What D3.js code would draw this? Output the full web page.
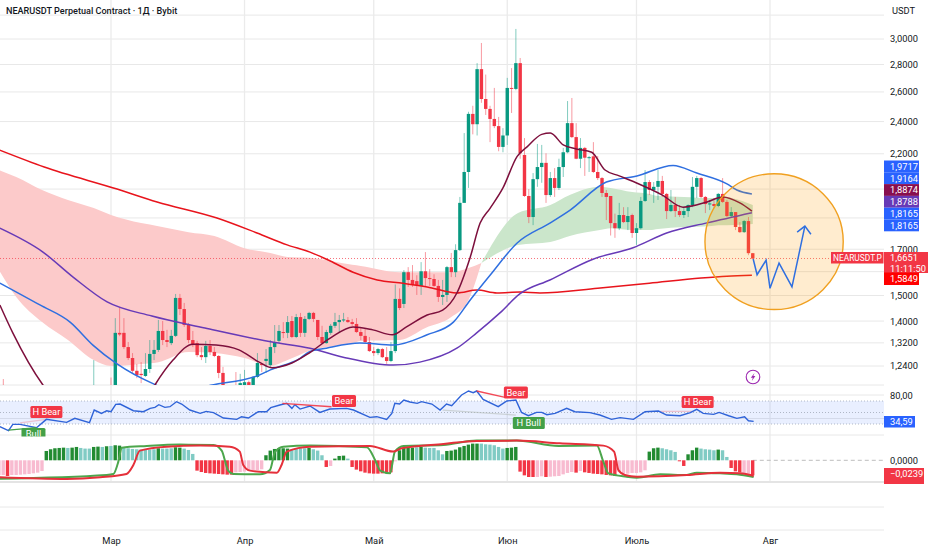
<!DOCTYPE html>
<html lang="ru">

<head>
  <meta charset="UTF-8">
  <title>NEARUSDT Perpetual Contract</title>
  <script src="https://d3js.org/d3.v7.min.js"></script>
  <style>
    body { margin: 0; background: #fff; }
    text { font-family: Roboto, sans-serif; fill: #131722; }
    .axis .domain { display: none; }
    .axis text { font-size: 9.3px; font-family: Roboto, sans-serif; fill: #131722; }
    .tag { font-size: 9.3px; fill: #fff; }
  </style>
</head>

<body>
  <div id="chart"></div>
  <script>
    // x is counted in days from 1 March
    const monthDays = [0, 31, 61, 92, 122, 153];
    const monthNames = ["Мар", "Апр", "Май", "Июн", "Июль", "Авг"];

    const gridPrices = [3.2, 3.0, 2.8, 2.6, 2.4, 2.2, 2.0, 1.85, 1.7, 1.6, 1.5, 1.4, 1.32, 1.24];
    const labelPrices = [3.0, 2.8, 2.6, 2.4, 2.2, 1.7, 1.5, 1.4, 1.32, 1.24];

    // daily candles, first one is 2 March
    const opens = [
      1.12, 1.364, 1.364, 1.313, 1.275, 1.232, 1.222, 1.215, 1.238, 1.289, 1.303, 1.371, 1.338, 1.327, 1.353, 1.498, 1.454, 1.393, 1.338, 1.327, 1.285, 1.278, 1.317, 1.296, 1.282, 1.225, 1.17, 1.16, 1.165, 1.17,
      1.18, 1.195, 1.183, 1.212, 1.255, 1.265, 1.251, 1.313, 1.335, 1.367, 1.364, 1.408, 1.349, 1.423, 1.364, 1.416, 1.439, 1.412, 1.349, 1.327, 1.364, 1.39, 1.404, 1.412, 1.412, 1.404, 1.397, 1.367, 1.353, 1.331,
      1.299, 1.292, 1.306, 1.278, 1.265, 1.299, 1.494, 1.474, 1.605, 1.572, 1.567, 1.547, 1.609, 1.58, 1.576, 1.547, 1.502, 1.51, 1.627, 1.605, 1.703, 1.933, 2.1, 2.454, 2.387, 2.767, 2.554, 2.487, 2.421, 2.375, 2.246,
      2.316, 2.631, 2.624, 2.812, 2.198, 1.969, 1.861, 2.06, 2.128, 2.152, 1.974, 2.066, 2.012, 2.128, 2.214, 2.394, 2.306, 2.176, 2.24, 2.182, 2.19, 2.1, 2.066, 1.985, 1.969, 1.831, 1.806, 1.871, 1.836, 1.871,
      1.783, 1.806, 1.943, 2.044, 2.001, 2.018, 2.05, 1.98, 1.891, 1.922, 1.891, 1.871, 1.891, 1.922, 2.018, 2.066, 1.964, 1.927, 1.927, 1.917, 1.98, 1.938, 1.866, 1.886, 1.812, 1.787, 1.841, 1.689
    ];
    const highs = [
      1.419, 1.458, 1.419, 1.331, 1.292, 1.255, 1.261, 1.292, 1.338, 1.338, 1.412, 1.408, 1.375, 1.375, 1.514, 1.514, 1.478, 1.401, 1.371, 1.335, 1.313, 1.335, 1.338, 1.313, 1.285, 1.245, 1.175, 1.175, 1.228, 1.222,
      1.235, 1.2, 1.215, 1.292, 1.258, 1.306, 1.338, 1.393, 1.393, 1.404, 1.427, 1.427, 1.435, 1.439, 1.427, 1.443, 1.443, 1.412, 1.39, 1.375, 1.397, 1.439, 1.431, 1.439, 1.423, 1.416, 1.419, 1.382, 1.379, 1.349,
      1.313, 1.31, 1.31, 1.313, 1.331, 1.553, 1.537, 1.614, 1.627, 1.636, 1.592, 1.649, 1.694, 1.618, 1.596, 1.572, 1.572, 1.632, 1.69, 1.73, 1.964, 2.331, 2.468, 2.508, 2.812, 2.968, 2.727, 2.508, 2.631, 2.434, 2.362,
      2.703, 2.775, 3.082, 2.851, 2.3, 2.006, 2.094, 2.264, 2.258, 2.208, 2.1, 2.122, 2.176, 2.24, 2.54, 2.561, 2.394, 2.3, 2.246, 2.192, 2.275, 2.192, 2.072, 2.001, 1.969, 1.878, 1.933, 1.911, 1.911, 1.878,
      1.831, 1.964, 2.111, 2.055, 2.044, 2.111, 2.078, 1.985, 2.001, 1.964, 1.922, 1.911, 1.925, 2.072, 2.078, 2.072, 1.969, 1.948, 1.958, 1.985, 2.066, 1.948, 1.911, 1.886, 1.836, 1.846, 1.861, 1.69
    ];
    const lows = [
      1.08, 1.352, 1.306, 1.268, 1.225, 1.208, 1.192, 1.212, 1.225, 1.268, 1.296, 1.32, 1.313, 1.32, 1.349, 1.431, 1.386, 1.327, 1.313, 1.278, 1.268, 1.258, 1.285, 1.278, 1.208, 1.164, 1.15, 1.14, 1.15, 1.16,
      1.165, 1.17, 1.165, 1.208, 1.228, 1.225, 1.245, 1.292, 1.327, 1.345, 1.345, 1.345, 1.345, 1.349, 1.349, 1.412, 1.404, 1.338, 1.325, 1.325, 1.357, 1.382, 1.367, 1.404, 1.401, 1.39, 1.364, 1.338, 1.327, 1.296,
      1.282, 1.285, 1.275, 1.255, 1.261, 1.292, 1.45, 1.458, 1.543, 1.543, 1.51, 1.51, 1.543, 1.547, 1.543, 1.482, 1.47, 1.482, 1.584, 1.584, 1.699, 2.012, 2.012, 2.323, 2.316, 2.528, 2.447, 2.275, 2.362, 2.22, 2.214,
      2.258, 2.46, 2.615, 2.176, 1.964, 1.831, 1.821, 2.018, 2.04, 1.933, 1.964, 1.964, 2.001, 2.072, 2.208, 2.3, 2.173, 2.122, 2.078, 2.1, 2.094, 2.055, 1.964, 1.846, 1.771, 1.76, 1.797, 1.831, 1.797, 1.76,
      1.727, 1.8, 1.938, 1.974, 1.933, 1.948, 1.964, 1.851, 1.886, 1.861, 1.861, 1.856, 1.861, 1.911, 1.958, 1.958, 1.881, 1.896, 1.906, 1.911, 1.933, 1.861, 1.861, 1.797, 1.783, 1.783, 1.68, 1.662
    ];
    const closes = [
      1.364, 1.358, 1.313, 1.275, 1.232, 1.218, 1.218, 1.238, 1.289, 1.303, 1.371, 1.338, 1.331, 1.353, 1.498, 1.454, 1.393, 1.338, 1.32, 1.285, 1.278, 1.317, 1.296, 1.282, 1.225, 1.18, 1.16, 1.15, 1.16, 1.192,
      1.195, 1.183, 1.212, 1.258, 1.251, 1.272, 1.313, 1.331, 1.371, 1.364, 1.404, 1.349, 1.423, 1.364, 1.416, 1.439, 1.416, 1.349, 1.327, 1.367, 1.39, 1.404, 1.412, 1.414, 1.404, 1.397, 1.367, 1.353, 1.331, 1.299,
      1.292, 1.306, 1.278, 1.265, 1.299, 1.494, 1.458, 1.605, 1.572, 1.551, 1.551, 1.609, 1.58, 1.576, 1.547, 1.502, 1.51, 1.627, 1.605, 1.703, 1.933, 2.1, 2.454, 2.387, 2.767, 2.554, 2.487, 2.421, 2.375, 2.246, 2.316,
      2.631, 2.624, 2.812, 2.208, 1.969, 1.861, 2.06, 2.128, 2.152, 1.974, 2.066, 2.012, 2.128, 2.214, 2.394, 2.306, 2.176, 2.24, 2.182, 2.185, 2.1, 2.066, 1.985, 1.964, 1.831, 1.806, 1.871, 1.836, 1.866, 1.783,
      1.806, 1.943, 2.044, 2.001, 2.018, 2.05, 1.98, 1.891, 1.922, 1.891, 1.871, 1.891, 1.922, 2.018, 2.066, 1.964, 1.927, 1.93, 1.917, 1.98, 1.938, 1.866, 1.886, 1.812, 1.787, 1.841, 1.689, 1.6651
    ];
    // only the wicks of these older candles reach into the pane
    const earlyDays = [-26, -25, -4, 0];
    const earlyHighs = [1.205, 1.205, 1.268, 1.21];
    const earlyUp = [false, false, true, false];

    // moving averages
    const ema200Days = [-26, -15.5, 1.4, 10.7, 24.6, 33.9, 40.9, 46.2, 50.9, 56.2, 61.8, 67.8, 73.4, 80.3, 85, 89.6, 95, 99.6, 113, 125, 137, 143, 148.8];
    const ema200 = [2.228, 2.128, 2.006, 1.938, 1.856, 1.783, 1.727, 1.694, 1.654, 1.605, 1.572, 1.558, 1.543, 1.518, 1.53, 1.518, 1.522, 1.518, 1.537, 1.558, 1.58, 1.588, 1.592];
    const ema100Days = [-25.8, -15.8, -8.8, -0.9, 9.5, 21.8, 37.4, 46.2, 53.9, 65.5, 71.7, 80.3, 84.9, 90.3, 94.9, 101.9, 111.9, 121.2, 129, 138.4, 148.8];
    const ema100 = [1.806, 1.694, 1.584, 1.482, 1.427, 1.382, 1.331, 1.309, 1.278, 1.251, 1.261, 1.309, 1.364, 1.439, 1.514, 1.572, 1.662, 1.714, 1.783, 1.832, 1.883];
    const ema50Days = [-25.8, -16.5, -9.5, -4.2, 1.4, 9.5, 15, 23.5, 34.4, 37, 44, 46, 50, 57.8, 65.5, 73.4, 79.5, 83.4, 88, 94.3, 101.9, 106.6, 115, 122.1, 130.5, 136, 143, 145.3, 148.8];
    const ema50 = [1.559, 1.47, 1.404, 1.32, 1.255, 1.192, 1.164, 1.186, 1.218, 1.235, 1.275, 1.296, 1.309, 1.327, 1.32, 1.357, 1.404, 1.49, 1.592, 1.736, 1.831, 1.896, 2.044, 2.078, 2.137, 2.094, 2.034, 2.001, 1.98];
    const ema20Days = [-25.8, -22.8, -15.8, -10, 0, 7, 10.2, 14.4, 19, 24.4, 29.7, 34.4, 37.4, 42, 46, 50.9, 56.2, 60.8, 65.3, 68.6, 73.4, 77, 80.3, 83.4, 85.7, 88, 91, 94.3, 96.6, 100, 102, 105, 108, 111.6, 114.7, 118, 122.3, 128, 132.8, 138.4, 142, 146, 148.8];
    const ema20 = [1.47, 1.364, 1.186, 1.1, 1.05, 1.11, 1.186, 1.268, 1.323, 1.32, 1.303, 1.261, 1.242, 1.258, 1.292, 1.345, 1.386, 1.375, 1.357, 1.386, 1.431, 1.45, 1.518, 1.671, 1.831, 1.905, 2.012, 2.19, 2.246, 2.323, 2.331, 2.258, 2.234, 2.214, 2.111, 2.078, 2.036, 1.974, 1.911, 1.938, 1.964, 1.933, 1.891];

    // bands
    const pinkDays = [-26, -22, -16, -10, -4, 0, 7, 11, 18, 24, 31, 37, 41, 46, 56, 58, 67, 73, 79, 83, 86];
    const pinkTop = [2.111, 2.072, 2.001, 1.948, 1.906, 1.871, 1.831, 1.816, 1.787, 1.769, 1.712, 1.69, 1.672, 1.668, 1.637, 1.632, 1.605, 1.605, 1.605, 1.623, 1.645];
    const pinkBottom = [1.614, 1.502, 1.404, 1.338, 1.268, 1.248, 1.255, 1.261, 1.296, 1.292, 1.275, 1.248, 1.268, 1.299, 1.327, 1.335, 1.338, 1.382, 1.423, 1.49, 1.645];
    const greenDays = [86, 94.5, 102, 106.5, 113.5, 116, 121, 125, 127, 133, 138.8, 141, 143, 149];
    const greenTop = [1.645, 1.881, 1.922, 1.974, 2.018, 2.012, 1.99, 1.98, 1.969, 1.964, 1.958, 1.958, 1.958, 1.922];
    const greenBottom = [1.645, 1.727, 1.741, 1.769, 1.797, 1.806, 1.797, 1.797, 1.802, 1.812, 1.816, 1.821, 1.821, 1.826];

    // hand drawn forecast and circle
    const forecastDays = [149.1, 150, 152.1, 153, 155.1, 158.1, 161.1];
    const forecastPrices = [1.663, 1.594, 1.658, 1.537, 1.645, 1.543, 1.816];
    const arrowDays = [159.3, 161.1, 162.5];
    const arrowPrices = [1.787, 1.816, 1.777];
    const circleDays = [137.9, 170];
    const circlePrices = [2.09, 1.452];

    // RSI
    const rsiDays = [-25.8, -23.8, -22.8, -21.1, -17.3, -15, -10.3, -8.4, -5, -3.9, -2.2, -1, 0, 1.1, 2.1, 5.2, 7.5, 9.1, 10.2, 11.1, 12.5, 13.7, 15.2, 16.4, 18.3, 20.7, 22.1, 23.8, 26.1, 29.2, 30.3, 31.9, 34.2, 36.1, 37.1, 39.2, 40.8, 42, 42.7, 43.9, 46.2, 48.5, 50.8, 54.7, 56.3, 60.1, 61.7, 64, 65.2, 65.9, 67, 68, 69.4, 71.1, 72.1, 74.5, 76.4, 77.9, 79.1, 81.4, 83, 84.1, 84.9, 86.4, 89.9, 91.9, 94, 95.3, 96.9, 98.8, 100, 101.2, 103.1, 105.8, 107.7, 111.2, 113.5, 116.2, 118.2, 121.3, 124, 127.1, 129, 132.1, 134.5, 136, 137.5, 139.9, 141.2, 143.4, 145.3, 147.1, 148, 149.2];
    const rsi = [25.3, 18.3, 29.4, 29.4, 23.6, 38.1, 32.8, 39.8, 32.3, 54.3, 48.5, 53.1, 51.4, 64.2, 64.7, 53.1, 51.4, 57.2, 59, 63.6, 59, 60.1, 68.8, 64.7, 54.3, 48.5, 52, 49.7, 40.4, 38.1, 42.7, 40.4, 51.4, 51.4, 58.4, 63, 65.9, 57.2, 63.6, 56, 61.3, 50.2, 56, 57.2, 54.3, 41.5, 42.7, 38.1, 48.5, 65.9, 64.7, 71.7, 68.2, 65.9, 68.8, 64.7, 54.3, 64.7, 61.8, 80.4, 87.4, 84.5, 87.4, 72.9, 60.1, 70, 71.7, 50.2, 44.4, 50.2, 50.2, 46.2, 48.5, 57.2, 51.4, 49.7, 45.6, 38.1, 41, 38.1, 51.4, 52.6, 45.6, 44.4, 49.7, 55.5, 48.5, 46.8, 50.2, 44.4, 39.8, 42.7, 35.7, 34.59];

    // divergence segments on the RSI: [day, rsi, day, rsi]
    const redDivs = [[39.8, 65.9, 51.2, 60], [84.9, 87.4, 91.5, 76.4]];
    const greenDivs = [[-23.8, 19.4, -17.3, 23.6]];
    const paleRedDivs = [[-21.1, 32, -15, 38.1], [127.5, 52, 135, 52]];
    const paleGreyDivs = [[77, 54.3, 94, 45.6]];
    const divLabels = ["H Bear", "Bull", "Bear", "Bear", "H Bull", "H Bear"];
    const divLabelDays = [-15, -18, 54.1, 94, 97, 136.2];
    const divLabelRsi = [50.9, 12.6, 70, 85, 31.7, 68.3];
    const divLabelKinds = ["bear", "bull", "bear", "bear", "bull", "bear"];

    // oscillator histogram, one bar per day from day -26, shade D = strong, L = weak
    const histStart = -26;
    const hist = [
      -.0233, -.0233, -.0249, -.0233, -.0233, -.0228, -.0223, -.0217, -.0207, -.0196, -.0170,
      .0148, .0175, .0191, .0196, .0201, .0196, .0201, .0212, .0196, .0186, .0186, .0212, .0217, .0212, .0223,
      .0228, .0239, .0233, .0207, .0191, .0180, .0175, .0170, .0164, .0170, .0175, .0191, .0186, .0186, .0191, .0207, .0201, .0186, .0164, .0101,
      -.0164, -.0186, -.0201, -.0207, -.0212, -.0217, -.0223, -.0228, -.0228, -.0191, -.0186, -.0180, -.0170, -.0164, -.0154, -.0143,
      .0080, .0154, .0180, .0191, .0191, .0186, .0175, .0186, .0191, .0191, .0196,
      .0175, .0154, .0080, -.0106, -.0090, .0027, .0069, .0074, .0027,
      -.0106, -.0148, -.0175, -.0196, -.0207, -.0212, -.0212, -.0207, -.0196, -.0191, -.0016,
      .0159, .0196, .0201, .0201, .0207, .0212, .0201, .0196, .0196, .0159, .0095, .0148, .0154, .0170, .0207, .0228, .0249, .0265, .0265, .0265, .0254, .0249, .0239, .0212, .0186, .0196, .0201, .0212,
      -.0180, -.0239, -.0265, -.0265, -.0265, -.0254, -.0265, -.0260, -.0254, -.0249, -.0223, -.0201, -.0186, -.0196, -.0170, -.0191, -.0201, -.0212, -.0217, -.0223, -.0233, -.0239, -.0249, -.0186, -.0212, -.0212, -.0201, -.0201, -.0191, -.0159,
      .0138, .0191, .0201, .0191, .0175, .0159, .0133, -.0016, -.0090, .0095, .0159, .0201, .0186, .0175, .0170, .0159, .0170, .0159, .0053,
      -.0122, -.0175, -.0191, -.0201, -.0212, -.0239
    ];
    const histShade = "LLDLLLLLLLL" + "DDDDDLDDLLLDDLD" + "LDDLLLLLLLLDLLLDDLLL" + "DDDDDDDDDLLLLLLL" + "DDDDDDLLLLD" + "LLLDLDDDL" + "DDDDDDDDDDL" +
      "DDDDLDLLLLLDDDDDDDDLLLLLLDDD" + "DDDDLLDLLLLLLDLDDDDDDDDLLLLLLL" + "DDDLLLLDDDDDLLLLDLL" + "DDDLLD";

    const oscGreenDays = [-25.8, -1, 0.55, 1.7, 2.5, 8.3, 16, 23.8, 25.7, 27.2, 28.4, 34.6, 36.9, 38.1, 40, 46.2, 59.4, 61.3, 62.5, 64.8, 65.9, 67.9, 77.2, 84.9, 94.2, 103.9, 112.8, 114.3, 115.5, 119.7, 122.1, 127.5, 133.7, 136, 141.4, 145.3, 149.2];
    const oscGreen = [-.0292, -.0233, -.0217, -.0021, .0201, .0228, .0249, .0244, .0154, -.0164, -.0217, -.0223, -.0154, .0138, .0217, .0233, .0207, .0005, -.0164, -.0207, .0138, .0228, .0244, .0313, .0313, .0228, .0233, -.0021, -.0207, -.0260, -.0276, -.0223, -.0233, -.0196, -.0207, -.0223, -.0265];
    const oscRedDays = [-25.8, -10.3, -2.5, 3.6, 5.2, 6.7, 12.9, 20.7, 27.6, 29.9, 30.7, 32.3, 38.5, 39.6, 40.8, 46.2, 60.1, 65.5, 67.5, 77.2, 84.9, 94.2, 104.2, 114.3, 116.8, 117.8, 119.3, 122.1, 133.7, 141.4, 146.1, 149.2];
    const oscRed = [-.0270, -.0297, -.0270, -.0217, -.0074, .0154, .0217, .0233, .0217, .0138, -.0074, -.0164, -.0196, -.0074, .0138, .0217, .0228, .0138, .0191, .0260, .0307, .0313, .0270, .0233, .0138, -.0154, -.0233, -.0260, -.0233, -.0196, -.0207, -.0249];

    // labels stacked on the price scale
    const stackLabels = ["1,9717", "1,9164", "1,8874", "1,8788", "1,8165", "1,8165"];
    const stackColors = ["#2962ff", "#2962ff", "#880e4f", "#673ab7", "#2962ff", "#2962ff"];

    const width = 932, height = 550, paneRight = 884;

    const svg = d3.select("#chart").append("svg")
      .attr("width", width)
      .attr("height", height)
      .style("display", "block");

    const x = d3.scaleLinear().domain([0, 153]).range([111, 770]);
    // axisY carries the printed scale, y the marks; the readings above lean a touch high low down
    const axisY = d3.scaleLog().domain([3, 1.24]).range([39, 366]);
    const y = d3.scaleLog().domain([3, 1.24]).range([39, 368.4]);
    const rsiY = d3.scaleLinear().domain([70, 30]).range([401, 424]);
    const oscY = d3.scaleLinear().domain([0.03, -0.03]).range([441.4, 479.2]);

    const defs = svg.append("defs");
    const addClip = (id, y0, y1) => defs.append("clipPath").attr("id", id).append("rect")
      .attr("x", 0).attr("y", y0).attr("width", paneRight).attr("height", y1 - y0);
    addClip("mainClip", 0, 385);
    addClip("rsiClip", 385, 436.5);
    addClip("oscClip", 436.5, 482);

    // grid
    const grid = svg.append("g").attr("stroke", "#e8e8e8");
    grid.selectAll(".h").data(gridPrices).enter().append("line")
      .attr("x1", 0).attr("x2", paneRight)
      .attr("y1", d => axisY(d)).attr("y2", d => axisY(d));
    grid.selectAll(".m").data(monthDays).enter().append("line")
      .attr("x1", d => x(d)).attr("x2", d => x(d))
      .attr("y1", 0).attr("y2", 482)
      .attr("stroke", "#ebebeb").attr("stroke-width", 1.3);
    [385, 395, 418.5, 435, 507, 530].forEach(v => grid.append("line")
      .attr("x1", 0).attr("x2", paneRight).attr("y1", v).attr("y2", v));
    grid.append("line").attr("x1", 0).attr("x2", paneRight).attr("y1", 482).attr("y2", 482)
      .attr("stroke", "#e4e4e4").attr("stroke-width", 2);

    // main pane
    const main = svg.append("g").attr("clip-path", "url(#mainClip)");
    main.append("path")
      .attr("fill", "#fccaca")
      .attr("d", d3.area().x(d => x(d)).y0((d, i) => y(pinkTop[i])).y1((d, i) => y(pinkBottom[i])).curve(d3.curveMonotoneX)(pinkDays));
    main.append("path")
      .attr("fill", "#cbe6cb")
      .attr("d", d3.area().x(d => x(d)).y0((d, i) => y(greenTop[i])).y1((d, i) => y(greenBottom[i])).curve(d3.curveMonotoneX)(greenDays));

    main.append("line")
      .attr("x1", 0).attr("x2", paneRight)
      .attr("y1", y(closes[closes.length - 1])).attr("y2", y(closes[closes.length - 1]))
      .attr("stroke", "#f23645").attr("stroke-opacity", 0.7).attr("stroke-dasharray", "1 2");

    const candles = opens.map((o, i) => ({ day: i + 1, o, h: highs[i], l: lows[i], c: closes[i] }));
    const upColor = "#089981", downColor = "#f23645";
    main.selectAll(".early").data(earlyDays).enter().append("line")
      .attr("x1", d => x(d)).attr("x2", d => x(d))
      .attr("y1", (d, i) => y(earlyHighs[i])).attr("y2", 390)
      .attr("stroke", (d, i) => earlyUp[i] ? upColor : downColor)
      .attr("stroke-opacity", 0.5);
    main.selectAll(".wick").data(candles).enter().append("line")
      .attr("x1", d => x(d.day)).attr("x2", d => x(d.day))
      .attr("y1", d => y(d.h)).attr("y2", d => y(d.l))
      .attr("stroke", d => d.c >= d.o ? upColor : downColor)
      .attr("stroke-opacity", 0.5);
    main.selectAll(".body").data(candles).enter().append("rect")
      .attr("x", d => x(d.day) - 1.7)
      .attr("width", 3.4)
      .attr("y", d => y(Math.max(d.o, d.c)))
      .attr("height", d => Math.max(1, Math.abs(y(d.o) - y(d.c))))
      .attr("fill", d => d.c >= d.o ? upColor : downColor);

    const drawMa = (days, values, color) => main.append("path")
      .attr("fill", "none").attr("stroke", color).attr("stroke-width", 1.5)
      .attr("d", d3.line().x(d => x(d)).y((d, i) => y(values[i])).curve(d3.curveMonotoneX)(days));
    drawMa(ema200Days, ema200, "#e8141c");
    drawMa(ema100Days, ema100, "#673ab7");
    drawMa(ema50Days, ema50, "#2f6fe0");
    drawMa(ema20Days, ema20, "#7d0f3c");

    // orange circle goes over the candles
    svg.append("ellipse")
      .attr("cx", (x(circleDays[0]) + x(circleDays[1])) / 2)
      .attr("cy", (y(circlePrices[0]) + y(circlePrices[1])) / 2)
      .attr("rx", (x(circleDays[1]) - x(circleDays[0])) / 2)
      .attr("ry", (y(circlePrices[1]) - y(circlePrices[0])) / 2)
      .attr("fill", "#ff9800").attr("fill-opacity", 0.19)
      .attr("stroke", "#f0a020").attr("stroke-width", 1.4);

    const straight = d3.line().x(d => x(d[0])).y(d => y(d[1]));
    svg.append("path").attr("fill", "none").attr("stroke", "#2f6fe0").attr("stroke-width", 1.5)
      .attr("d", straight(forecastDays.map((d, i) => [d, forecastPrices[i]])));
    svg.append("path").attr("fill", "none").attr("stroke", "#2f6fe0").attr("stroke-width", 1.5)
      .attr("d", straight(arrowDays.map((d, i) => [d, arrowPrices[i]])));

    // lightning mark
    const bolt = svg.append("g").attr("transform", "translate(753,377)");
    bolt.append("circle").attr("r", 6.8).attr("fill", "#fff").attr("stroke", "#9c27b0").attr("stroke-width", 1.1);
    bolt.append("path").attr("d", "M1.5 -4 L-2.2 0.8 L-0.2 0.8 L-1.2 4 L2.4 -1 L0.3 -1 Z").attr("fill", "#9c27b0");

    // RSI pane
    const rsiPane = svg.append("g").attr("clip-path", "url(#rsiClip)");
    rsiPane.append("rect")
      .attr("x", 0).attr("width", paneRight)
      .attr("y", rsiY(70)).attr("height", rsiY(30) - rsiY(70))
      .attr("fill", "#2962ff").attr("fill-opacity", 0.1);
    [70, 50, 30].forEach(v => rsiPane.append("line")
      .attr("x1", 0).attr("x2", paneRight).attr("y1", rsiY(v)).attr("y2", rsiY(v))
      .attr("stroke", "#a0a8b8").attr("stroke-width", 0.8).attr("stroke-dasharray", "1 2"));

    const drawDivs = (rows, color, opacity) => rsiPane.selectAll(null).data(rows).enter().append("line")
      .attr("x1", d => x(d[0])).attr("y1", d => rsiY(d[1]))
      .attr("x2", d => x(d[2])).attr("y2", d => rsiY(d[3]))
      .attr("stroke", color).attr("stroke-opacity", opacity).attr("stroke-width", 1.3);
    drawDivs(paleGreyDivs, "#b0b8b0", 0.5);
    drawDivs(paleRedDivs, "#f23645", 0.25);

    rsiPane.append("path")
      .attr("fill", "none").attr("stroke", "#2f63d8").attr("stroke-width", 1.4)
      .attr("d", d3.line().x(d => x(d)).y((d, i) => rsiY(rsi[i]))(rsiDays));

    drawDivs(redDivs, "#f23645", 0.9);
    drawDivs(greenDivs, "#43a047", 1);

    divLabels.forEach((t, i) => {
      const cx = x(divLabelDays[i]), cy = rsiY(divLabelRsi[i]);
      const w = t.length > 4 ? 32 : 24;
      rsiPane.append("rect")
        .attr("x", cx - w / 2).attr("y", cy - 6).attr("width", w).attr("height", 12).attr("rx", 1.5)
        .attr("fill", divLabelKinds[i] === "bear" ? "#f23645" : "#43a047");
      rsiPane.append("text").attr("class", "tag")
        .attr("x", cx).attr("y", cy + 3.4).attr("text-anchor", "middle").text(t);
    });

    // oscillator pane
    svg.append("line")
      .attr("x1", x(149)).attr("x2", paneRight).attr("y1", oscY(0)).attr("y2", oscY(0))
      .attr("stroke", "#bdbdbd").attr("stroke-dasharray", "4 3");
    const osc = svg.append("g").attr("clip-path", "url(#oscClip)");
    const histColor = (v, s) => v >= 0 ? (s === "D" ? "#228b32" : "#80cbc4") : (s === "D" ? "#f23645" : "#f8bbd0");
    osc.selectAll(".bar").data(hist).enter().append("rect")
      .attr("x", (d, i) => x(histStart + i) - 1.8)
      .attr("width", 3.4)
      .attr("y", d => oscY(Math.max(d, 0)))
      .attr("height", d => Math.abs(oscY(d) - oscY(0)))
      .attr("fill", (d, i) => histColor(d, histShade[i]));
    const drawOsc = (days, values, color) => osc.append("path")
      .attr("fill", "none").attr("stroke", color).attr("stroke-width", 2)
      .attr("d", d3.line().x(d => x(d)).y((d, i) => oscY(values[i])).curve(d3.curveMonotoneX)(days));
    drawOsc(oscGreenDays, oscGreen, "#4ca64c");
    drawOsc(oscRedDays, oscRed, "#e5303a");

    // axes
    const priceAxis = d3.axisRight(axisY).tickValues(labelPrices).tickSize(0).tickPadding(6)
      .tickFormat(d => d.toFixed(4).replace(".", ","));
    svg.append("g").attr("class", "axis").attr("transform", `translate(${paneRight},0)`).call(priceAxis);
    const monthAxis = d3.axisBottom(x).tickValues(monthDays).tickSize(0).tickPadding(0)
      .tickFormat((d, i) => monthNames[i]);
    svg.append("g").attr("class", "axis").attr("transform", "translate(0,537)").call(monthAxis);

    svg.append("text").attr("x", 892).attr("y", 14).attr("font-size", 9.3).text("USDT");
    svg.append("text").attr("x", 6).attr("y", 14.2)
      .attr("font-size", 9.1).attr("font-weight", 500)
      .text("NEARUSDT Perpetual Contract · 1Д · Bybit");
    svg.append("text").attr("x", 890).attr("y", rsiY(80) + 3.4).attr("font-size", 9.3).text("80,00");
    svg.append("text").attr("x", 890).attr("y", oscY(0) + 3.4).attr("font-size", 9.3).text("0,0000");

    // boxes on the scale
    const tag = (x0, y0, w, h, color, lines) => {
      svg.append("rect").attr("x", x0).attr("y", y0).attr("width", w).attr("height", h).attr("fill", color);
      lines.forEach((t, i) => svg.append("text").attr("class", "tag")
        .attr("x", x0 + (w > 50 ? 2 : 6)).attr("y", y0 + 9.2 + i * 10.4)
        .style("font-size", w > 50 ? "8.4px" : null).text(t));
    };
    stackLabels.forEach((t, i) => tag(884, 160.5 + i * 11.8, 35, 11.8, stackColors[i], [t]));
    tag(831, 252, 52.5, 11.5, "#f23645", ["NEARUSDT.P"]);
    tag(884, 252, 44, 21, "#f23645", ["1,6651", "11:11:50"]);
    tag(884, 272.5, 35, 12.5, "#ff0000", ["1,5849"]);
    tag(884, 416, 31, 11.5, "#2962ff", ["34,59"]);
    svg.append("rect").attr("x", 884).attr("y", 481).attr("width", 40).attr("height", 3).attr("fill", "#f23645");
    tag(884, 468, 40, 13.5, "#f23645", ["−0,0239"]);
  </script>
</body>

</html>
